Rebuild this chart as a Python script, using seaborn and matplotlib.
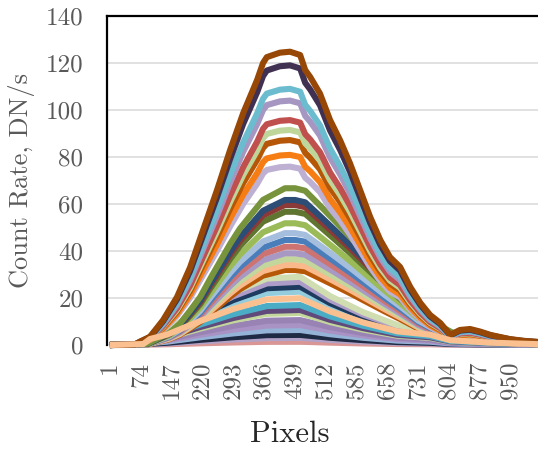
import numpy as np
import pandas as pd
import matplotlib
matplotlib.use("Agg")
import matplotlib.pyplot as plt
import seaborn as sns

# Profile shapes (pixel, count rate)
narrow_x = [1, 60, 72, 96, 127, 160, 191, 222, 255, 286, 317, 350, 364, 373, 404, 428, 452, 464, 476, 499,
            523, 547, 570, 594, 618, 642, 665, 689, 713, 737, 760, 784, 808, 831, 855, 879, 903, 926, 950, 981, 1024]
narrow_y = [0, 0.2, 1.4, 3.5, 10.6, 20.4, 33, 49, 66, 83, 98.7, 112.8, 120, 122.5, 124.4, 124.8, 123.4, 117, 114, 107,
            95.7, 87, 77.4, 66, 54.5, 44.7, 37.4, 33.2, 24.7, 17.9, 12.8, 9.4, 4.3, 6.4, 6.8, 5.7, 4.3, 3.4, 2.5, 1.8, 1.2]

mid_x = [1, 90, 120, 143, 167, 191, 215, 238, 262, 286, 309, 333, 364, 416, 440, 464, 494, 535, 575, 613,
         653, 694, 732, 772, 812, 850, 900, 950, 1024]
mid_y = [0, 0.5, 3, 5, 8.5, 13.6, 19, 26, 33, 40, 46, 51, 57.4, 62, 62, 61, 56, 49, 42, 35,
         27.7, 20.6, 13.6, 8.5, 5, 3.5, 2.5, 1.5, 0.5]

broad_x = [1, 80, 96, 136, 215, 293, 373, 452, 523, 601, 682, 760, 808, 900, 1024]
broad_y = [0, 0.4, 2.5, 4.3, 10, 15, 19, 19.5, 14, 9.4, 5.7, 4.3, 2, 1, 0.3]

# series peaks and colours (highest first)
narrow_peaks = [124.8, 119, 109, 104, 95.7, 91.5, 87.2, 80.9, 75.9]
narrow_colors = ['#974706', '#403152', '#6CBCD0', '#A596C2', '#C0504D', '#BFD69A', '#B65708', '#F57D14', '#BDB0D3']

mid_peaks = [66.7, 61.7, 59.6, 56.7, 51.8, 47.6, 44.7, 41.8, 39, 36.5, 34, 31.9]
mid_colors = ['#77933C', '#2C4D75', '#8B3A38', '#5F7530', '#9BBB59', '#A6BEDD', '#4A7EBB', '#CD7371',
              '#A899C4', '#C3D69B', '#F9B98A', '#B65708']

broad_peaks = [29, 26.9, 24.8, 22.7, 19.9, 17, 14.9, 13.6, 10.6, 8.5, 6.4, 4.3, 3, 1.4]
broad_colors = ['#D0DDB0', '#AD9CC8', '#1F3A5F', '#93CDDD', '#FAC090', '#4BACC6', '#604A7B', '#C3D69B',
                '#9983B5', '#A893C4', '#95B3D7', '#1F2A44', '#B3A2C7', '#D99694']

tick_pos = [1, 74, 147, 220, 293, 366, 439, 512, 585, 658, 731, 804, 877, 950]

rows = []
palette = {}
order = []
n = 0
for xs, ys, peaks, cols in [(narrow_x, narrow_y, narrow_peaks, narrow_colors),
                            (mid_x, mid_y, mid_peaks, mid_colors),
                            (broad_x, broad_y, broad_peaks, broad_colors)]:
    ys = np.array(ys)
    for p, c in zip(peaks, cols):
        name = f"s{n}"
        n += 1
        palette[name] = c
        order.append(name)
        for x, y in zip(xs, ys * p / ys.max()):
            rows.append((name, x, y))
df = pd.DataFrame(rows, columns=['series', 'pixel', 'rate'])

# draw lowest first so the big curves sit on top; peach series last
peach = order[len(narrow_peaks) + len(mid_peaks) + 4]
order = order[::-1]
order.remove(peach)
order.append(peach)

sns.set_theme(style='white')
plt.rcParams['font.family'] = ['cmr10', 'DejaVu Serif']
plt.rcParams['axes.formatter.use_mathtext'] = True

fig = plt.figure(figsize=(5.38, 4.5), dpi=100)
ax = fig.add_axes([107/538, 1 - 345/450, 1 - 107/538, 329/450])

sns.lineplot(data=df, x='pixel', y='rate', hue='series', hue_order=order, palette=palette,
             linewidth=4.4, legend=False, ax=ax, estimator=None, sort=False)
for ln in ax.lines:
    ln.set_clip_on(False)
    ln.set_solid_capstyle('butt')

ax.set_xlim(-6, 1016)
ax.set_ylim(0, 140)
ax.set_yticks(range(0, 141, 20))
ax.set_xticks(tick_pos)
ax.set_xticklabels([str(t) for t in tick_pos], rotation=90, fontsize=18, color='#595959')
ax.set_yticklabels([str(v) for v in range(0, 141, 20)], fontsize=18, color='#595959')
ax.tick_params(axis='x', length=0, pad=12)
ax.tick_params(axis='y', length=0, pad=17)
ax.grid(axis='y', color='#D9D9D9', linewidth=1.1)
ax.set_axisbelow(True)
ax.set_xlabel('')
ax.set_ylabel('')
for s in ['bottom', 'right']:
    ax.spines[s].set_visible(False)
for s in ['top', 'left']:
    ax.spines[s].set_color('black')
    ax.spines[s].set_linewidth(1.6)

fig.text(22/538, 1 - 180/450, 'Count Rate, DN/s', rotation=90, ha='center', va='center',
         fontsize=19, color='#595959')
fig.text(290/538, 1 - 434/450, 'Pixels', ha='center', va='center', fontsize=22, color='#262626')

fig.savefig('out.png', dpi=100)
